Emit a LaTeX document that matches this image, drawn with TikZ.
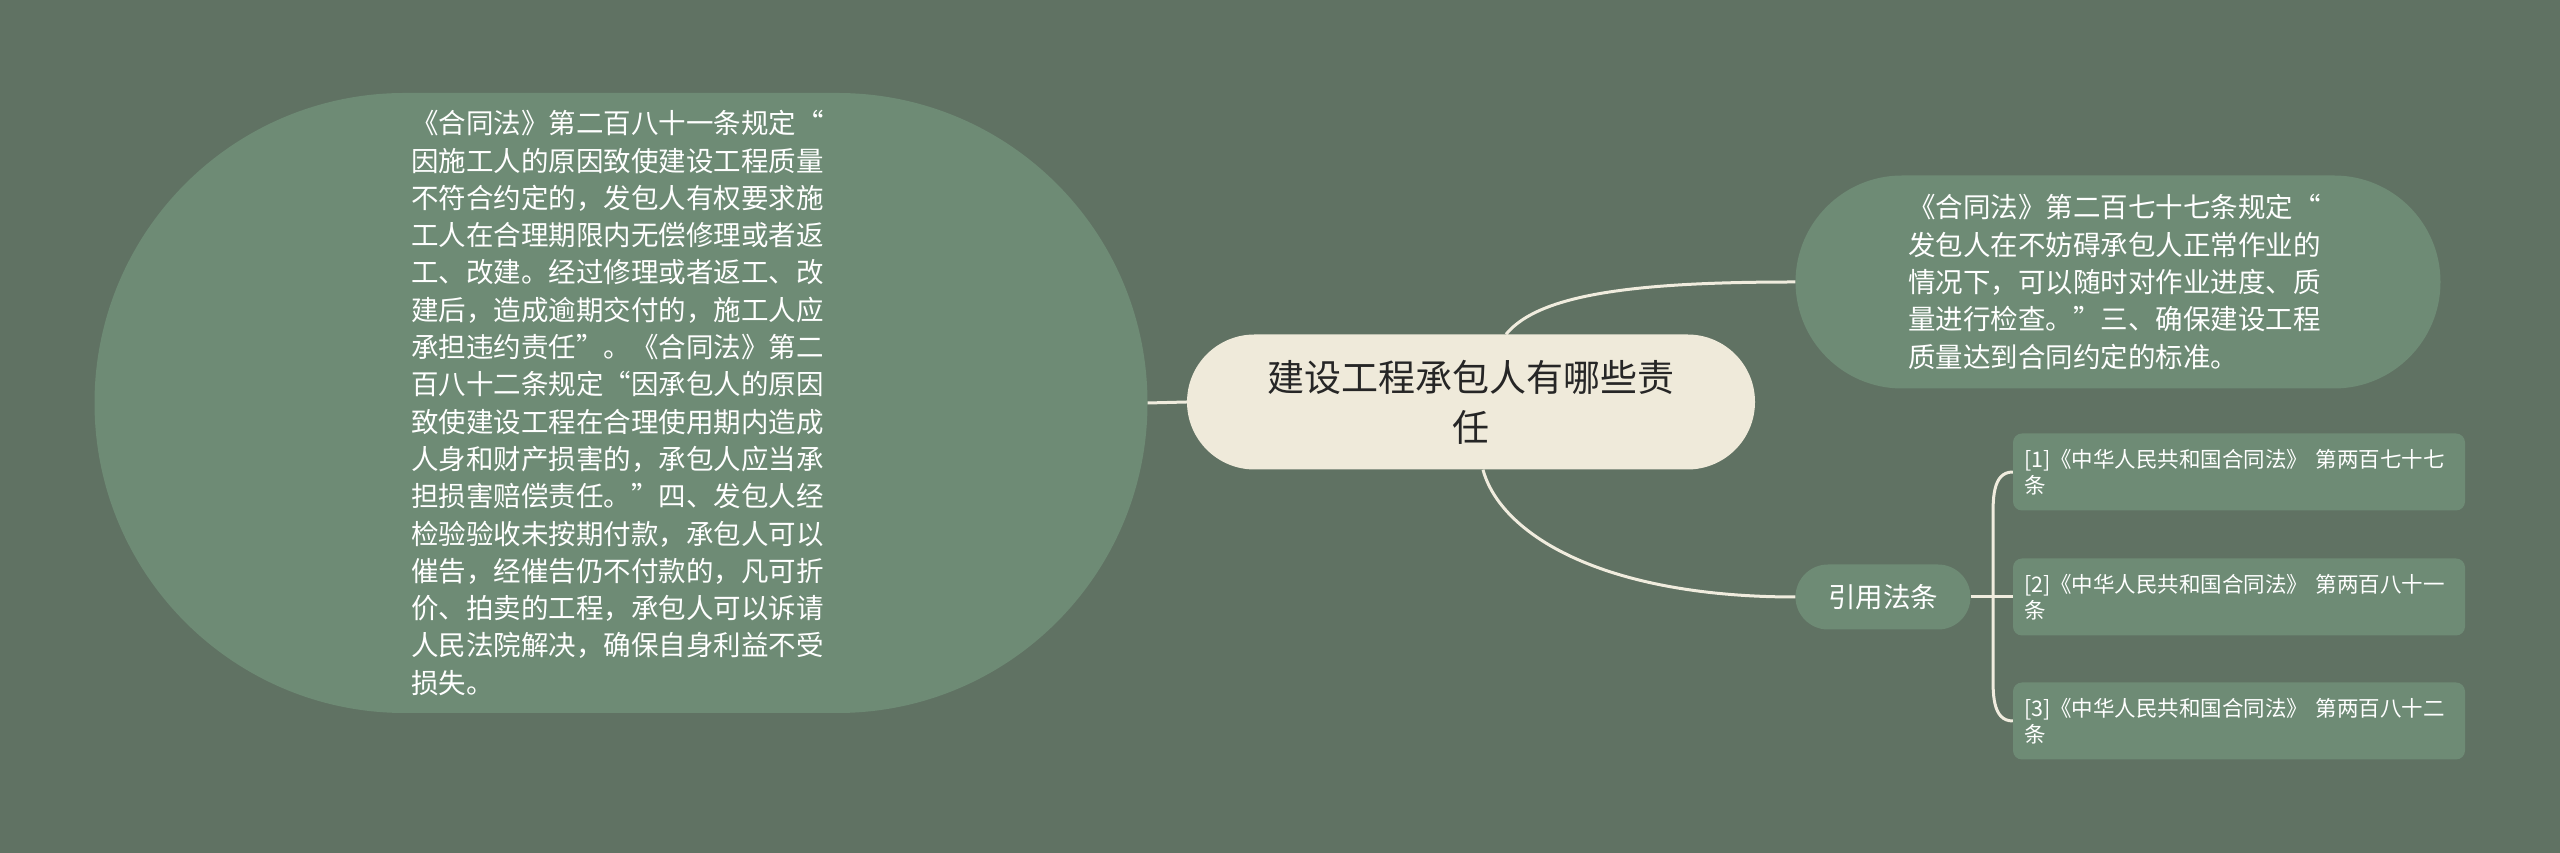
\documentclass[tikz,border=0pt]{standalone}
\usepackage{fontspec}
\setmainfont{Noto Sans CJK SC}
\usepackage{tikz}
\usetikzlibrary{shapes}
\definecolor{bgcol}{RGB}{96,114,99}
\definecolor{leafcol}{RGB}{110,139,117}
\definecolor{topiccol}{RGB}{239,234,218}
\definecolor{linecol}{RGB}{240,236,222}
\tikzset{
topic/.style={rounded rectangle, fill=topiccol, text=black!85, inner sep=0pt, minimum width=568pt, minimum height=135pt, text width=410pt, align=center, font=\fontsize{37}{50}\selectfont}, % central topic
bubble/.style={rounded rectangle, fill=leafcol, text=white, inner sep=0pt, text width=420pt, align=left, font=\fontsize{27.5}{37.3}\selectfont},
citebox/.style={rounded rectangle, fill=leafcol, text=white, inner sep=0pt, minimum width=175pt, minimum height=65pt, font=\fontsize{27.5}{33}\selectfont},
refbox/.style={rectangle, rounded corners=9pt, fill=leafcol, text=white, inner xsep=11pt, inner ysep=0pt, text width=430pt, minimum height=77pt, align=left, font=\fontsize{21.5}{26}\selectfont},
link/.style={draw=linecol, line width=3pt}
}

\begin{document}
\begin{tikzpicture}[x=1pt, y=1pt]
    \fill [bgcol] (0,0) rectangle (2560,853);
    \useasboundingbox (0,0) rectangle (2560,853);
    \node [topic] (topic) at (1471,451) {建设工程承包人有哪些责\\任};
    \node [bubble, minimum width=1053pt, minimum height=620pt] (duty) at (621,450) {《合同法》第二百八十一条规定“\\因施工人的原因致使建设工程质量\\不符合约定的，发包人有权要求施\\工人在合理期限内无偿修理或者返\\工、改建。经过修理或者返工、改\\建后，造成逾期交付的，施工人应\\承担违约责任”。《合同法》第二\\百八十二条规定“因承包人的原因\\致使建设工程在合理使用期内造成\\人身和财产损害的，承包人应当承\\担损害赔偿责任。”四、发包人经\\检验验收未按期付款，承包人可以\\催告，经催告仍不付款的，凡可折\\价、拍卖的工程，承包人可以诉请\\人民法院解决，确保自身利益不受\\损失。};
    \node [bubble, minimum width=645pt, minimum height=213pt] (check) at (2118,571) {《合同法》第二百七十七条规定“\\发包人在不妨碍承包人正常作业的\\情况下，可以随时对作业进度、质\\量进行检查。”三、确保建设工程\\质量达到合同约定的标准。};
    \node [citebox] (cite) at (1883,256) {引用法条};
    \node [refbox] (ref1) at (2239,381) {[1]《中华人民共和国合同法》 第两百七十七\\条};
    \node [refbox] (ref2) at (2239,256) {[2]《中华人民共和国合同法》 第两百八十一\\条};
    \node [refbox] (ref3) at (2239,132) {[3]《中华人民共和国合同法》 第两百八十二\\条};
    \coordinate (fork) at (1993,256);
    \draw [link] (topic.west) -- (duty.east);
    \draw [link] ([xshift=35pt]topic.north) .. controls (1540,560) and (1640,571) .. (check.west);
    \draw [link] ([xshift=12pt]topic.south) .. controls (1500,320) and (1600,256) .. (cite.west);
    \draw [link] (cite.east) -- (fork);
    \draw [link] (fork) -- ([yshift=-50pt]fork |- ref1.west) to[out=90, in=180] (ref1.west);
    \draw [link] (fork) -- (ref2.west);
    \draw [link] (fork) -- ([yshift=50pt]fork |- ref3.west) to[out=-90, in=180] (ref3.west);
\end{tikzpicture}
\end{document}
